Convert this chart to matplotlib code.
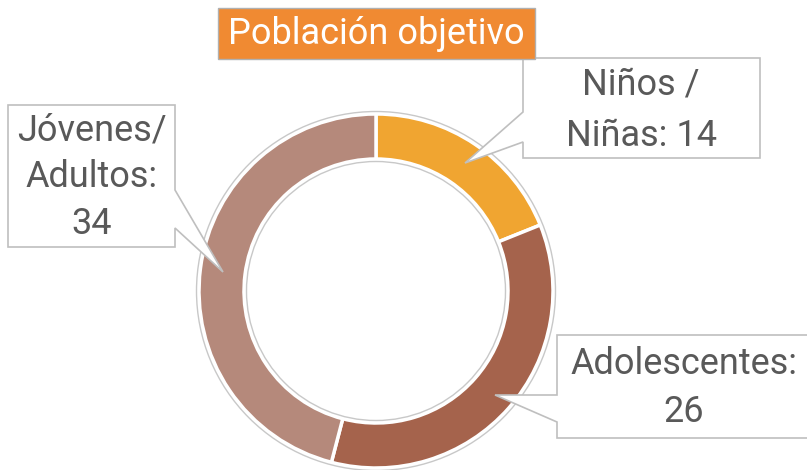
import matplotlib
matplotlib.use("Agg")
import matplotlib.pyplot as plt
from matplotlib.patches import Polygon, Rectangle, Circle

# ---- data ----
categories = ["Niños /\nNiñas", "Adolescentes", "Jóvenes/\nAdultos"]
values = [14, 26, 34]
separators = [" ", "\n", "\n"]
colors = ["#F0A531", "#A5634C", "#B5897B"]
title = "Población objetivo"

W, H = 807, 470
fig = plt.figure(figsize=(W / 100, H / 100), dpi=100)
ax = fig.add_axes([0, 0, 1, 1])

def Y(y):
    return H - y

cx, cy, R = 376, 291, 177
ring_w = 45

ax.pie(values, colors=colors, startangle=90, counterclock=False,
       center=(cx, Y(cy)), radius=R,
       wedgeprops=dict(width=ring_w, edgecolor="white", linewidth=2.5))
# thin gray outlines around the ring
ax.add_patch(Circle((cx, Y(cy)), R + 2.5, fill=False, ec="#C8C8C8", lw=1.0))
ax.add_patch(Circle((cx, Y(cy)), R - ring_w - 2.5, fill=False, ec="#C8C8C8", lw=1.0))

ax.set_xlim(0, W)
ax.set_ylim(0, H)
ax.set_aspect("equal")
ax.axis("off")

FONT = "Roboto"
TXT = "#595959"
EDGE = "#BFBFBF"

def callout(pts, text, tx, ty, ls):
    poly = Polygon([(x, Y(y)) for x, y in pts], closed=True, fc="white",
                   ec=EDGE, lw=1.2, zorder=5)
    ax.add_patch(poly)
    ax.text(tx, Y(ty), text, ha="center", va="center", fontsize=26,
            family=FONT, color=TXT, linespacing=ls, zorder=6)

labels = [f"{c}:{s}{v}" for c, s, v in zip(categories, separators, values)]

# Niños / Niñas: box at right-top, tail from left edge
callout([(523, 58), (760, 58), (760, 158), (523, 158), (523, 142),
         (465, 163), (523, 112)], labels[0], 641, 110, 1.55)
# Adolescentes: box at right-bottom, tail from left edge
callout([(557, 335), (812, 335), (812, 438), (557, 438), (557, 422),
         (495, 395), (557, 395)], labels[1], 684, 388, 1.4)
# Jóvenes / Adultos: box at left, tail from right edge
callout([(8, 105), (175, 105), (175, 190), (223, 272), (175, 228),
         (175, 247), (8, 247)], labels[2], 92, 177, 1.38)

# title box
ax.add_patch(Rectangle((218, Y(59)), 317, 51, fc="#F08A32", ec="#B0B0B0",
                       lw=1.0, zorder=5))
ax.text(376, Y(34), title, ha="center", va="center", fontsize=26,
        family=FONT, color="white", zorder=6)

fig.savefig("out.png", dpi=100)
